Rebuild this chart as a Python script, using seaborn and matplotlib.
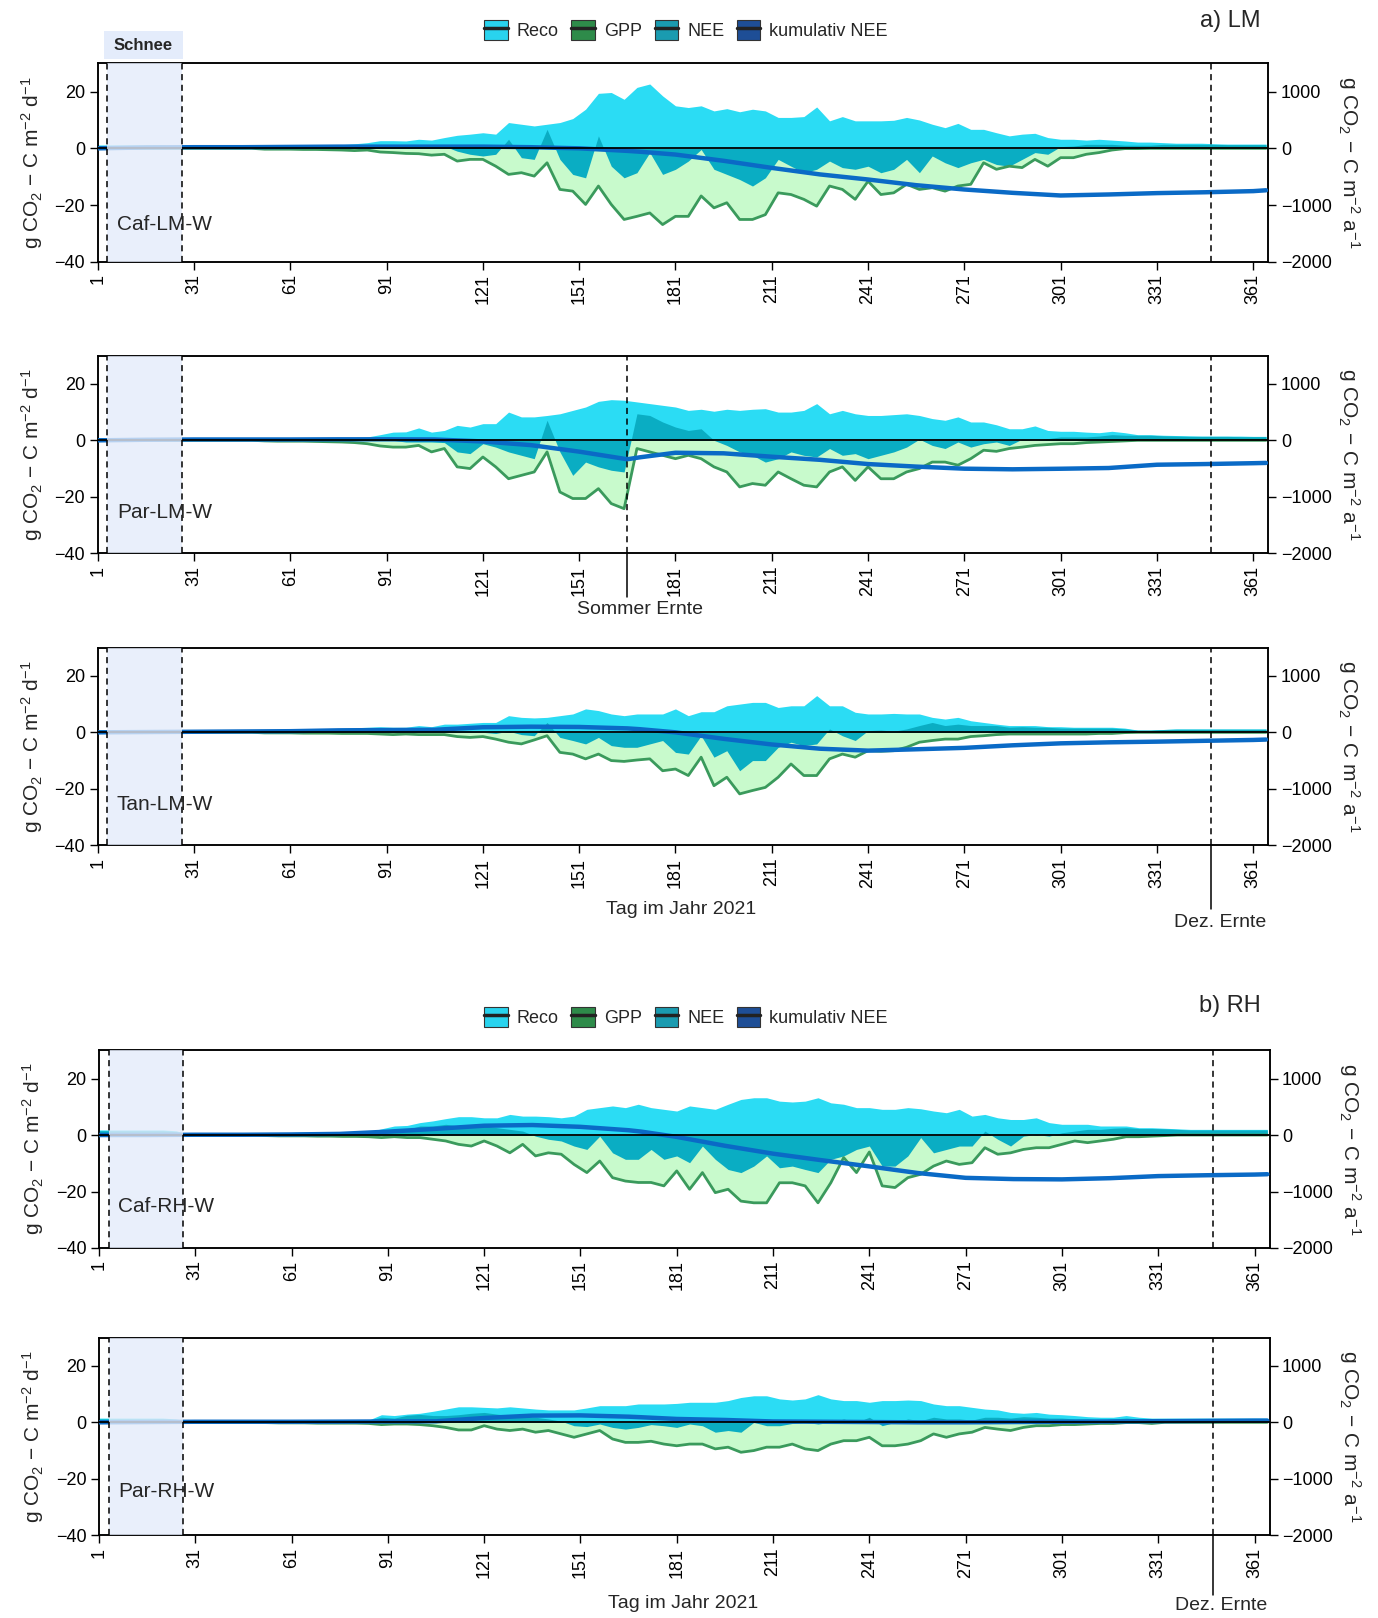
import numpy as np
import matplotlib
matplotlib.use("Agg")
import matplotlib.pyplot as plt
from matplotlib.patches import Patch, Rectangle
from matplotlib.lines import Line2D
import seaborn as sns

sns.set_theme(style="ticks")
plt.rcParams['font.family'] = ['Liberation Sans', 'DejaVu Sans']
plt.rcParams['mathtext.fontset'] = 'custom'
plt.rcParams['mathtext.rm'] = 'Liberation Sans'
plt.rcParams['mathtext.it'] = 'Liberation Sans:italic'
plt.rcParams['axes.unicode_minus'] = True

# ---------------------------------------------------------------- data
# day of year, 4-day resolution
days = list(range(1, 366, 4))
cum_days = [1, 16, 31, 46, 61, 76, 91, 106, 121, 136, 151, 166, 170, 181, 196,
            211, 226, 241, 256, 271, 286, 301, 316, 331, 346, 361, 365]
tick_days = [1, 31, 61, 91, 121, 151, 181, 211, 241, 271, 301, 331, 361]

# Caf-LM-W
reco_caf_lm = [1.2, 1.2, 1.2, 1.2, 1.2, 1.2, 1.0, 0.3, 0.3, 0.3, 0.3, 0.3, 0.3, 0.8, 1.0, 1.0, 1.0, 1.1, 1.2, 1.3, 1.6,
               2.0, 2.7, 2.7, 2.6, 3.2, 2.9, 3.8, 4.6, 5.0, 5.5, 5.0, 9.1, 8.5, 7.9, 8.5, 9.1, 10.5, 13.8, 19.4, 19.7,
               17.3, 21.5, 22.7, 18.5, 15.0, 14.4, 15.0, 13.2, 14.0, 12.9, 13.8,
               13.2, 10.9, 10.9, 11.2, 14.6, 9.7, 11.2, 9.7, 9.7, 9.7, 9.9, 10.9, 10.0, 8.5, 7.3, 8.8, 6.7, 6.7, 5.5,
               4.4, 5.0, 5.3, 3.8, 3.2, 3.2, 2.9, 3.2, 2.9, 2.6, 2.2, 2.2,
               2.0, 1.8, 1.8, 1.8, 1.6, 1.5, 1.5, 1.5, 1.5]
gpp_caf_lm = [0, 0, 0, 0, 0, 0, 0, 0, 0, 0, 0, 0, 0, -0.3, -0.3, -0.3, -0.4, -0.4, -0.5, -0.6, -0.8,
              -0.6, -1.3, -1.5, -1.8, -1.9, -2.4, -2.1, -4.5, -3.9, -3.9, -6.3, -9.2, -8.6, -9.8, -5.1, -14.5, -15.1,
              -19.8, -13.3, -19.8, -25.1, -24.0, -22.8, -26.9, -24.0, -24.0, -16.8, -21.0, -19.2, -25.1, -25.1,
              -23.4, -15.7, -16.3, -18.0, -20.4, -13.3, -14.5, -18.0, -11.6, -16.3, -15.7, -12.7, -14.5, -13.9, -15.1,
              -13.3, -12.7, -5.1, -7.4, -6.3, -6.8, -3.9, -6.3, -3.3, -3.3, -2.1, -1.5, -0.6, -0.1, -0.1, 0,
              0, 0, 0, 0, 0, 0, 0, 0, 0]
nee_caf_lm = [1.0, 1.0, 1.0, 1.0, 1.0, 1.0, 0.8, 0.3, 0.3, 0.3, 0.3, 0.3, 0.3, 0.5, 0.7, 0.7, 0.7, 0.7, 0.7, 0.7, 0.8,
              1.2, 1.2, 1.0, 0.8, 1.0, 0.5, 0.8, -1.0, -2.1, -2.7, -2.1, 3.2, -3.3, -3.9, 6.7, -3.9, -9.2, -10.4, 4.4,
              -6.3, -10.4, -8.6, -1.5, -9.2, -7.4, -4.5, -0.4, -7.4, -9.2, -11.0, -13.3,
              -10.4, -3.9, -6.3, -8.6, -7.4, -4.5, -6.8, -7.4, -6.3, -8.6, -7.4, -3.9, -8.6, -2.7, -5.1, -6.8, -5.1,
              -3.9, -5.7, -6.3, -3.9, -1.5, -2.1, 0.6, 0.8, 1.4, 1.4, 1.4, 1.1, 1.1, 1.1,
              1.4, 1.4, 1.4, 1.4, 1.4, 1.3, 1.3, 1.3, 1.3]
cum_caf_lm = [0, 15, 20, 20, 25, 30, 30, 30, 30, 20, 0, -45, -60, -110, -220, -345, -460, -550, -650, -726,
              -785, -832, -814, -790, -775, -755, -740]

# Par-LM-W
reco_par_lm = [1.0, 1.0, 1.0, 1.0, 1.0, 1.0, 0.8, 0.3, 0.3, 0.3, 0.3, 0.3, 0.3, 0.6, 0.8, 0.9, 1.0, 1.0, 1.0, 1.0, 1.0,
               1.2, 2.0, 2.9, 3.0, 4.4, 2.9, 3.5, 5.3, 4.7, 5.9, 5.9, 10.0, 8.3, 8.3, 8.8, 9.4, 10.6, 11.8, 13.8, 14.4,
               14.2, 13.6, 13.0, 12.4, 11.8, 10.6, 11.0, 10.3, 11.0, 10.6, 11.0,
               11.2, 10.0, 10.0, 10.6, 13.0, 9.4, 10.6, 9.4, 8.8, 8.8, 9.1, 9.4, 8.8, 7.7, 7.1, 8.3, 6.5, 6.5, 5.5,
               4.1, 4.1, 5.1, 3.5, 3.2, 3.2, 2.9, 2.7, 3.2, 2.7, 2.0, 2.0,
               1.8, 1.7, 1.6, 1.5, 1.5, 1.5, 1.5, 1.4, 1.4]
gpp_par_lm = [0, 0, 0, 0, 0, 0, 0, 0, 0, 0, 0, 0, 0, -0.2, -0.3, -0.3, -0.3, -0.4, -0.5, -0.6, -0.8,
              -1.2, -2.0, -2.4, -2.4, -1.8, -4.1, -2.9, -9.4, -10.0, -5.9, -9.4, -13.6, -12.4, -11.2, -4.1, -18.3,
              -20.6, -20.6, -17.1, -22.4, -24.2, -2.9, -4.1, -5.3, -6.5, -5.3, -6.5, -9.4, -11.2, -16.5, -15.3,
              -15.9, -11.2, -13.6, -15.9, -16.5, -11.2, -9.4, -14.2, -9.4, -13.6, -13.6, -11.2, -10.0, -7.7, -7.7,
              -8.8, -6.5, -3.5, -3.9, -2.9, -2.4, -1.8, -1.5, -1.2, -1.2, -0.8, -0.6, -0.4, -0.2, 0, 0,
              0, 0, 0, 0, 0, 0, 0, 0, 0]
nee_par_lm = [0.8, 0.8, 0.8, 0.8, 0.8, 0.8, 0.6, 0.2, 0.2, 0.2, 0.2, 0.2, 0.2, 0.4, 0.5, 0.6, 0.6, 0.6, 0.6, 0.6, 0.6,
              0.8, 0.4, 0.0, -0.6, -0.6, -0.6, -0.8, -4.1, -4.7, -1.2, -2.4, -4.1, -5.3, -6.5, 7.1, -4.1, -12.4, -7.7,
              -9.4, -10.6, -11.2, 9.4, 8.8, 6.5, 4.7, 3.5, 4.1, 0.0, -1.8, -4.1, -5.3,
              -7.7, -6.5, -4.1, -5.3, -5.9, -2.9, -5.3, -4.7, -6.5, -5.3, -4.1, -2.4, 0.4, -1.8, -2.9, -0.6, -2.4,
              -1.2, -0.6, -1.8, 0.4, 0.0, 0.6, 1.2, 1.2, 1.2, 1.5, 2.0, 1.8, 1.8, 1.8,
              1.6, 1.5, 1.4, 1.4, 1.4, 1.4, 1.3, 1.3, 1.3]
cum_par_lm = [0, 10, 15, 15, 15, 18, 18, 15, -20, -85, -200, -335, -300, -220, -230, -290, -345, -420, -465, -502,
              -513, -503, -490, -432, -420, -405, -400]

# Tan-LM-W
reco_tan_lm = [1.0, 1.0, 1.0, 1.0, 1.0, 1.0, 0.8, 0.3, 0.3, 0.3, 0.3, 0.3, 0.3, 0.6, 0.8, 0.8, 0.9, 1.0, 1.2, 1.4, 1.6,
               1.8, 2.0, 1.8, 1.8, 2.4, 2.0, 2.9, 2.9, 3.2, 3.5, 3.5, 5.9, 5.3, 5.1, 5.3, 5.9, 6.5, 8.3, 7.7, 6.5,
               5.9, 6.5, 6.5, 6.5, 8.3, 5.9, 7.3, 7.3, 9.4, 10.0, 10.6,
               10.6, 8.8, 9.4, 9.4, 13.0, 9.4, 9.4, 7.1, 6.5, 6.5, 6.7, 6.5, 6.5, 5.3, 4.7, 5.3, 4.1, 3.5, 2.9,
               2.4, 2.4, 2.4, 2.0, 2.0, 1.8, 1.8, 1.8, 1.8, 1.5, 0.8, 0.8,
               1.0, 1.2, 1.2, 1.2, 1.2, 1.2, 1.2, 1.2, 1.2]
gpp_tan_lm = [0, 0, 0, 0, 0, 0, 0, 0, 0, 0, 0, 0, 0, -0.2, -0.2, -0.2, -0.3, -0.3, -0.3, -0.4, -0.4,
              -0.4, -0.6, -0.8, -0.6, -0.8, -0.8, -0.8, -1.5, -1.8, -1.5, -2.4, -3.5, -4.1, -2.7, -1.2, -7.1, -7.7,
              -9.4, -7.7, -10.0, -10.3, -9.8, -9.4, -13.6, -13.0, -15.3, -8.8, -18.9, -15.9, -21.8, -20.6,
              -19.5, -15.9, -11.2, -15.3, -15.3, -9.4, -7.7, -8.8, -6.5, -6.7, -6.5, -5.3, -3.5, -2.9, -2.4, -2.4,
              -1.5, -1.2, -0.8, -0.6, -0.6, -0.6, -0.6, -0.6, -0.6, -0.6, -0.4, -0.4, -0.1, 0, 0,
              0, 0, 0, 0, 0, 0, 0, 0, 0]
nee_tan_lm = [0.8, 0.8, 0.8, 0.8, 0.8, 0.8, 0.6, 0.2, 0.2, 0.2, 0.2, 0.2, 0.2, 0.4, 0.6, 0.6, 0.7, 0.8, 0.9, 1.0, 1.2,
              1.2, 1.2, 0.8, 1.2, 1.5, 1.5, 1.2, 0.4, 0.4, 0.0, -0.4, 0.4, -0.8, -1.2, 3.5, -1.8, -2.9, -4.1, -1.8,
              -4.7, -5.3, -5.3, -4.1, -2.9, -7.1, -7.7, -1.2, -8.8, -6.5, -13.6, -10.0,
              -10.0, -5.3, -3.5, -4.7, -4.1, 1.2, -1.2, -2.9, 0.6, 0.8, 0.4, 1.2, 2.4, 3.5, 2.4, 2.9, 2.4, 2.4,
              2.4, 1.8, 2.0, 1.8, 1.8, 1.5, 1.5, 1.5, 1.5, 1.5, 1.2, 0.8, 0.8,
              1.0, 1.1, 1.1, 1.1, 1.1, 1.1, 1.1, 1.1, 1.1]
cum_tan_lm = [0, 5, 10, 15, 20, 35, 40, 45, 90, 100, 95, 70, 55, 0, -115, -215, -290, -324, -300, -275, -230,
              -195, -177, -165, -150, -135, -128]

# Caf-RH-W
reco_caf_rh = [1.8, 1.8, 1.8, 1.8, 1.8, 1.8, 1.5, 0.3, 0.3, 0.3, 0.3, 0.3, 0.3, 0.6, 0.8, 0.9, 1.0, 1.0, 1.0, 1.0, 1.0,
               1.1, 2.2, 3.2, 3.4, 4.4, 5.0, 5.8, 6.5, 6.5, 6.1, 6.1, 7.3, 6.7, 6.7, 6.5, 6.1, 6.7, 9.1, 9.7, 10.3,
               9.7, 10.9, 9.7, 9.1, 8.5, 10.3, 9.7, 9.1, 10.9, 12.6, 13.2,
               13.2, 12.0, 11.7, 12.0, 13.2, 11.4, 10.9, 9.7, 9.7, 9.1, 9.1, 9.7, 9.3, 8.5, 7.9, 9.1, 6.7, 7.3, 6.1,
               5.5, 5.5, 6.1, 4.4, 3.8, 3.8, 3.8, 3.2, 3.2, 3.2, 2.6, 2.6,
               2.4, 2.2, 2.0, 2.0, 2.0, 2.0, 2.0, 2.0, 2.0]
gpp_caf_rh = [0, 0, 0, 0, 0, 0, 0, 0, 0, 0, 0, 0, 0, -0.2, -0.3, -0.3, -0.3, -0.4, -0.4, -0.5, -0.5,
              -0.6, -0.9, -0.6, -0.9, -0.9, -1.5, -2.1, -3.3, -3.9, -2.1, -3.9, -6.3, -3.3, -7.4, -6.3, -6.8, -10.4,
              -13.3, -9.2, -15.1, -16.3, -16.8, -16.8, -18.0, -12.7, -19.2, -13.3, -20.4, -19.2, -23.4, -24.0,
              -24.0, -16.9, -16.9, -18.0, -24.0, -16.9, -8.0, -13.3, -6.0, -18.0, -18.6, -15.1, -13.9, -11.0, -9.2,
              -10.4, -9.8, -4.5, -6.8, -6.3, -5.1, -4.5, -4.5, -3.3, -2.1, -2.7, -2.1, -1.5, -0.6, -0.6, -0.4,
              -0.2, 0, 0, 0, 0, 0, 0, 0, 0]
nee_caf_rh = [1.5, 1.5, 1.5, 1.5, 1.5, 1.5, 1.2, 0.2, 0.2, 0.2, 0.2, 0.2, 0.2, 0.4, 0.6, 0.7, 0.8, 0.8, 0.8, 0.8, 0.8,
              1.0, 1.4, 1.4, 2.0, 3.2, 3.2, 3.8, 3.2, 3.4, 3.2, 2.6, 2.0, 1.4, -0.4, -1.5, -2.1, -3.9, -5.1, -0.4,
              -6.3, -8.6, -8.6, -5.1, -8.6, -7.4, -9.8, -3.9, -8.6, -12.2, -13.3, -11.0,
              -7.4, -11.6, -11.0, -12.2, -13.3, -8.6, -7.4, -5.1, -3.9, -11.0, -11.0, -7.4, -0.9, -6.3, -5.1, -3.9,
              -3.9, 1.4, -1.5, -3.9, -0.4, 0.2, -0.4, 0.8, 1.4, 2.0, 2.0, 2.4, 2.6, 2.3, 2.3,
              2.2, 2.0, 1.8, 1.8, 1.8, 1.8, 1.8, 1.8, 1.8]
cum_caf_rh = [0, 0, 5, 5, 10, 20, 60, 110, 165, 177, 145, 85, 60, -33, -190, -330, -445, -555, -672, -758, -780,
              -785, -764, -727, -712, -700, -694]

# Par-RH-W
reco_par_rh = [1.5, 1.5, 1.5, 1.5, 1.5, 1.5, 1.2, 0.3, 0.3, 0.3, 0.3, 0.3, 0.3, 0.5, 0.6, 0.6, 0.7, 0.7, 0.7, 0.7, 0.7,
               0.8, 2.7, 2.4, 2.9, 3.2, 3.9, 4.7, 5.5, 5.5, 5.3, 5.1, 5.5, 5.1, 4.7, 4.4, 4.4, 4.4, 5.1, 5.9, 5.9,
               5.9, 6.5, 6.5, 6.5, 6.7, 7.1, 7.1, 7.1, 7.7, 8.8, 9.4,
               9.4, 8.3, 7.9, 8.3, 9.8, 8.3, 7.7, 7.7, 7.1, 7.7, 7.7, 7.9, 7.7, 6.5, 5.9, 5.9, 5.3, 4.7, 4.4,
               3.5, 3.2, 3.5, 2.9, 2.7, 2.4, 2.0, 1.8, 1.8, 2.4, 1.8, 1.5,
               1.5, 1.5, 1.5, 1.5, 1.5, 1.5, 1.5, 1.5, 1.5]
gpp_par_rh = [0, 0, 0, 0, 0, 0, 0, 0, 0, 0, 0, 0, 0, -0.1, -0.2, -0.2, -0.2, -0.3, -0.3, -0.3, -0.3,
              -0.4, -0.8, -0.6, -0.6, -0.8, -1.2, -1.8, -2.7, -2.7, -1.2, -2.4, -2.9, -2.4, -3.5, -2.9, -4.1, -5.3,
              -4.1, -2.9, -5.9, -7.1, -7.1, -6.7, -7.7, -8.3, -7.7, -7.7, -9.4, -8.8, -10.6, -10.0,
              -8.8, -8.8, -7.7, -9.4, -10.0, -7.7, -6.5, -6.5, -5.3, -8.3, -8.3, -7.7, -6.5, -4.1, -5.3, -4.1,
              -3.5, -1.8, -2.4, -2.9, -1.8, -1.2, -1.2, -0.8, -0.8, -0.6, -0.4, -0.4, -0.1, -0.1, -0.4,
              0, 0, 0, 0, 0, 0, 0, 0, 0]
nee_par_rh = [1.2, 1.2, 1.2, 1.2, 1.2, 1.2, 1.0, 0.2, 0.2, 0.2, 0.2, 0.2, 0.2, 0.4, 0.5, 0.5, 0.6, 0.6, 0.6, 0.6, 0.6,
              0.8, 1.8, 1.5, 2.5, 2.8, 2.4, 2.4, 2.7, 3.2, 3.5, 2.9, 2.4, 2.0, 1.8, 1.2, 0.4, -1.2, -1.5, -0.6,
              -1.8, -2.4, -1.8, -0.8, -1.2, -1.8, -0.6, -1.2, -3.5, -2.9, -3.5, 0.0,
              -1.2, -1.2, -0.4, 0.0, -0.6, 0.0, 1.2, 0.0, 1.8, -1.2, 0.0, 1.2, 0.6, 1.8, 1.2, 1.2, 0.8, 1.8,
              1.8, 1.5, 2.0, 1.8, 1.5, 1.5, 1.2, 1.2, 0.8, 1.2, 1.5, 1.2, 1.2,
              1.2, 1.2, 1.2, 1.2, 1.2, 1.2, 1.2, 1.2, 1.2]
cum_par_rh = [0, 5, 10, 10, 10, 12, 15, 18, 77, 119, 123, 100, 90, 60, 42, 15, 10, 5, 0, 0, 5, 10, 15, 20, 25,
              30, 30]

site_names = ["Caf-LM-W", "Par-LM-W", "Tan-LM-W", "Caf-RH-W", "Par-RH-W"]
legend_labels = ["Reco", "GPP", "NEE", "kumulativ NEE"]

snow_start, snow_end = 4, 27.2
summer_harvest = 166
dec_harvest = 348

# ---------------------------------------------------------------- styling
C_RECO = "#2BDCF4"
C_NEE = "#0AADC3"
C_GPP_FILL = "#C8FACC"
C_GPP_LINE = "#3A9A5C"
C_CUM = "#0A6AC6"
C_SNOW = "#E4ECFB"

W, H = 1378, 1618
fig = plt.figure(figsize=(W / 100, H / 100), dpi=100)

# panel frames in pixel coordinates: (left, top, right, bottom)
frames = [
    (97.7, 63.3, 1268.3, 261.7),
    (97.7, 355.6, 1268.3, 553.3),
    (97.7, 647.6, 1268.3, 845.3),
    (99.0, 1050.3, 1269.6, 1248.0),
    (99.0, 1337.6, 1269.6, 1535.3),
]

panels = [
    (reco_caf_lm, gpp_caf_lm, nee_caf_lm, cum_caf_lm),
    (reco_par_lm, gpp_par_lm, nee_par_lm, cum_par_lm),
    (reco_tan_lm, gpp_tan_lm, nee_tan_lm, cum_tan_lm),
    (reco_caf_rh, gpp_caf_rh, nee_caf_rh, cum_caf_rh),
    (reco_par_rh, gpp_par_rh, nee_par_rh, cum_par_rh),
]
site_y = [-26.8, -25.4, -25.7, -25.4, -24.5]

TICK_FS = 13
x = np.array(days)

for i, ((reco, gpp, nee, cum), (l, t, r, b)) in enumerate(zip(panels, frames)):
    ax = fig.add_axes([l / W, 1 - b / H, (r - l) / W, (b - t) / H])
    reco = np.array(reco); gpp = np.array(gpp); nee = np.array(nee)

    ax.fill_between(x, 0, reco, color=C_RECO, lw=0, zorder=1)
    ax.fill_between(x, gpp, 0, color=C_GPP_FILL, lw=0, zorder=2)
    ax.fill_between(x, 0, nee, color=C_NEE, lw=0, zorder=3)
    sns.lineplot(x=x, y=gpp, ax=ax, color=C_GPP_LINE, lw=2.0, estimator=None, zorder=4)

    ax.set_xlim(1, 365.7)
    ax.set_ylim(-40, 30)
    ax.set_yticks([-40, -20, 0, 20])
    ax.set_xticks(tick_days)
    ax.set_xticklabels([str(d) for d in tick_days], rotation=90)
    ax.tick_params(axis="both", direction="out", length=6, width=1, colors="black",
                   labelsize=TICK_FS, pad=3)
    ax.set_xlabel("")
    ax.set_ylabel(r"g CO$_2$ − C m$^{-2}$ d$^{-1}$", fontsize=15)
    ax.yaxis.label.set_horizontalalignment("center")
    ax.yaxis.label.set_verticalalignment("center")
    ax.yaxis.set_label_coords(-0.056, 0.5)
    for s in ax.spines.values():
        s.set_color("black"); s.set_linewidth(1.1)

    # cumulative NEE on the right axis
    ax2 = ax.twinx()
    sns.lineplot(x=cum_days, y=cum, ax=ax2, color=C_CUM, lw=3.2, estimator=None, zorder=5)
    ax2.axhline(0, color="black", lw=1.3, zorder=6)
    ax2.set_ylim(-2000, 1500)
    ax2.set_xlim(1, 365.7)
    ax2.set_yticks([-2000, -1000, 0, 1000])
    ax2.tick_params(axis="y", direction="out", length=6, width=1, colors="black",
                    labelsize=TICK_FS, pad=3)
    ax2.set_ylabel(r"g CO$_2$ − C m$^{-2}$ a$^{-1}$", fontsize=15, rotation=-90)
    ax2.yaxis.label.set_horizontalalignment("center")
    ax2.yaxis.label.set_verticalalignment("center")
    ax2.yaxis.set_label_coords(1.069, 0.5)
    for s in ax2.spines.values():
        s.set_color("black"); s.set_linewidth(1.1)

    # snow cover period
    ax2.axvspan(snow_start, snow_end, color=C_SNOW, alpha=0.8, lw=0, zorder=7)
    for xv in (snow_start, snow_end, dec_harvest):
        ax2.axvline(xv, color="black", ls=(0, (4, 3)), lw=1.1, zorder=8)
    if i == 1:
        ax2.axvline(summer_harvest, color="black", ls=(0, (4, 3)), lw=1.1, zorder=8)
        ax.plot([summer_harvest, summer_harvest], [-40, -55.5], color="black",
                lw=1.1, clip_on=False)
    if i in (2, 4):
        ax.plot([dec_harvest, dec_harvest], [-40, -62.5 if i == 2 else -61.0],
                color="black", lw=1.1, clip_on=False)

    ax2.text(7, site_y[i] * 50, site_names[i], fontsize=15, ha="left", va="center", zorder=9)

# ---------------------------------------------------------------- annotations
def ftext(px, py, s, **kw):
    fig.text(px / W, 1 - py / H, s, **kw)

fig.patches.append(Rectangle((104 / W, 1 - 59 / H), 79 / W, 28 / H, transform=fig.transFigure,
                             facecolor=C_SNOW, edgecolor="none"))
ftext(143.5, 46, "Schnee", fontsize=12, fontweight="bold", ha="center", va="center")

ftext(1230, 21, "a) LM", fontsize=17, ha="center", va="center")
ftext(1230, 1006, "b) RH", fontsize=17, ha="center", va="center")

ftext(640, 609, "Sommer Ernte", fontsize=14, ha="center", va="center")
ftext(681, 910, "Tag im Jahr 2021", fontsize=14, ha="center", va="center")
ftext(1220, 922, "Dez. Ernte", fontsize=14, ha="center", va="center")
ftext(683, 1604, "Tag im Jahr 2021", fontsize=14, ha="center", va="center")
ftext(1221, 1606, "Dez. Ernte", fontsize=14, ha="center", va="center")

legend_colors = ["#29D3EE", "#2E8B4A", "#1A9BB0", "#1E4E96"]
handles = [(Patch(facecolor=c, edgecolor="#333333", lw=0.8),
            Line2D([], [], color="#222222", lw=2.5)) for c in legend_colors]
for ly in (30, 1017):
    fig.legend(handles, legend_labels, loc="center", bbox_to_anchor=(686 / W, 1 - ly / H),
               ncol=4, frameon=False, fontsize=13, handlelength=1.3, handleheight=1.3,
               handletextpad=0.5, columnspacing=0.7)

fig.savefig("out.png", dpi=100)
